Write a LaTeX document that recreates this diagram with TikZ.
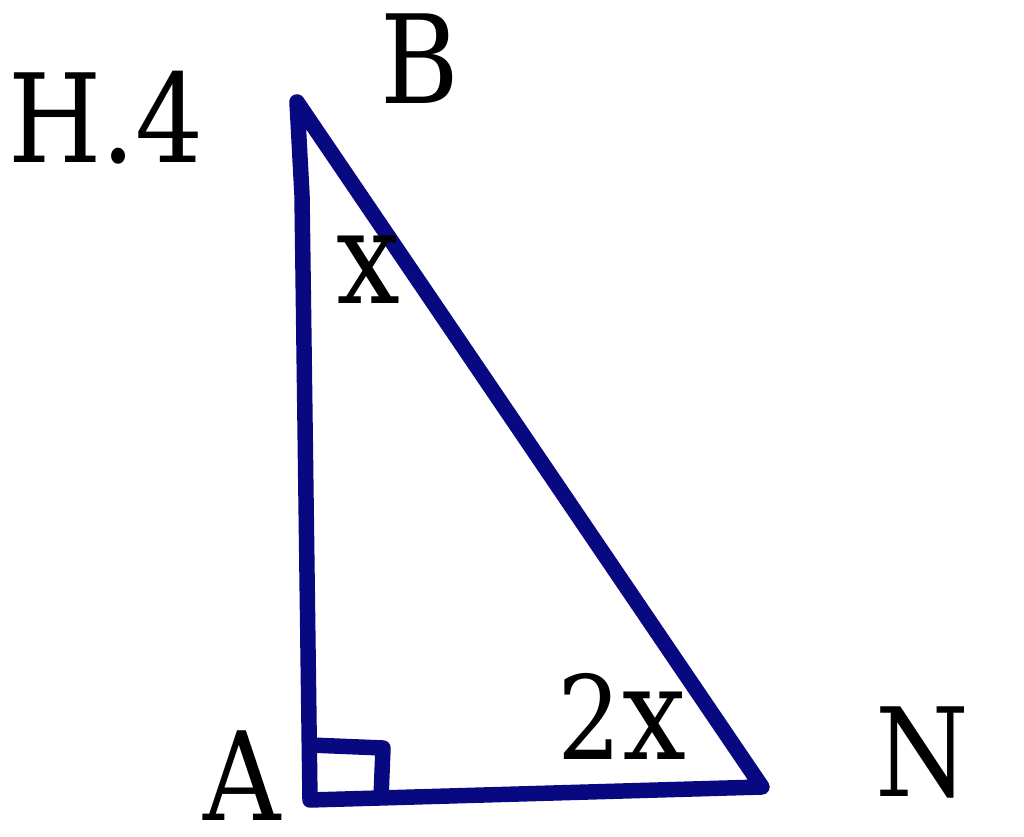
\documentclass[tikz,border=0pt]{standalone}
\usepackage{fontspec}
\setmainfont{DejaVu Serif}[FakeStretch=0.87]
\definecolor{navyline}{RGB}{8,8,128}
\tikzset{
  side/.style={draw=navyline, line width=4.4pt},
  lab/.style={inner sep=0pt, font=\fontsize{35pt}{35pt}\selectfont},
  anglab/.style={inner sep=0pt, font=\fontsize{33pt}{33pt}\selectfont}
}
\newcommand{\bigx}{{\fontsize{37pt}{37pt}\selectfont x}}
\begin{document}
\begin{tikzpicture}[x=0.01cm, y=-0.01cm, line join=round, line cap=round]
    \useasboundingbox (0,0) rectangle (1024,837);
    % vertices
    \coordinate (B) at (297,102);
    \coordinate (K) at (302,195);
    \coordinate (A) at (310,800);
    \coordinate (N) at (762,787);
    \coordinate (R1) at (310,745);
    \coordinate (R2) at (383,748);
    \coordinate (R3) at (381,798);
    \draw[side] (B)--(K)--(A)--(N)--cycle;
    \draw[side, line cap=butt] (R1)--(R2)--(R3);
    % labels
    \node[lab] (h4) at (106,118) {H.4};
    \node[lab] (lb) at (420,59) {B};
    \node[lab] (la) at (242,776) {A};
    \node[lab] (ln) at (922,753) {N};
    \node[inner sep=0pt] (angb) at (368,270) {\bigx};
    \node[anglab] (angn) at (622,716) {2\bigx};
\end{tikzpicture}
\end{document}
